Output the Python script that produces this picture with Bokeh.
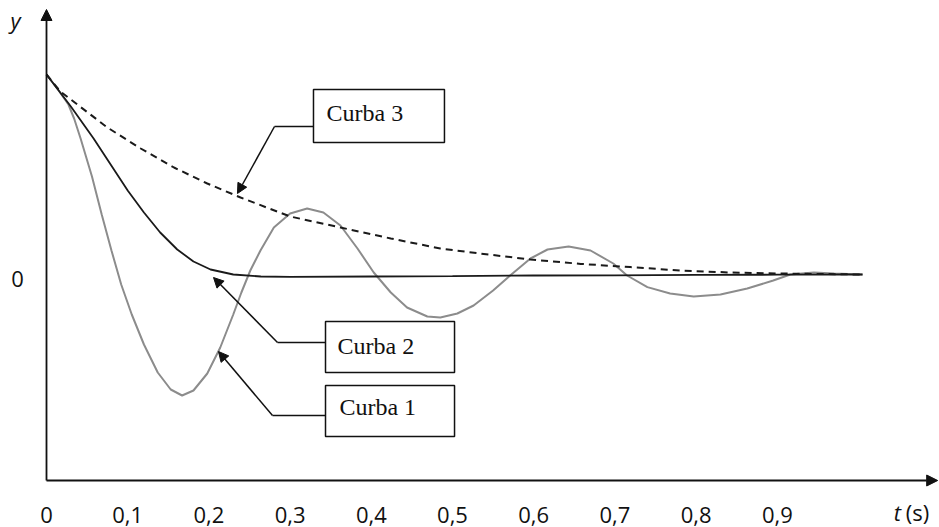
from bokeh.plotting import figure
from bokeh.models import Range1d, Arrow, NormalHead
from bokeh.core.properties import value
from bokeh.embed import file_html
from bokeh.resources import INLINE

# ---- data ----
curve1_t = [0, 0.015, 0.027, 0.034, 0.042, 0.056, 0.068, 0.08, 0.092, 0.105, 0.12, 0.137,
            0.153, 0.167, 0.181, 0.198, 0.214, 0.23, 0.24, 0.251, 0.2635, 0.28, 0.3, 0.321,
            0.341, 0.362, 0.383, 0.403, 0.424, 0.444, 0.469, 0.485, 0.506, 0.526, 0.55,
            0.571, 0.596, 0.617, 0.643, 0.67, 0.698, 0.715, 0.74, 0.768, 0.797, 0.83,
            0.863, 0.895, 0.916, 0.945, 0.97, 1.005]
curve1_y = [1.0, 0.92, 0.85, 0.78, 0.68, 0.49, 0.30, 0.12, -0.05, -0.2, -0.35, -0.49,
            -0.575, -0.605, -0.58, -0.495, -0.365, -0.2, -0.09, 0.02, 0.12, 0.235, 0.305, 0.33,
            0.31, 0.245, 0.13, 0.01, -0.09, -0.165, -0.21, -0.215, -0.195, -0.155, -0.08,
            -0.005, 0.08, 0.125, 0.14, 0.12, 0.055, -0.005, -0.063, -0.095, -0.11, -0.1,
            -0.07, -0.03, 0.0, 0.01, 0.005, 0.0]

curve2_t = [0, 0.015, 0.03, 0.058, 0.079, 0.1, 0.12, 0.14, 0.161, 0.181, 0.202, 0.23,
            0.264, 0.3, 0.4, 0.5, 0.6, 0.7, 0.8, 0.9, 1.005]
curve2_y = [1.0, 0.92, 0.84, 0.68, 0.55, 0.42, 0.31, 0.21, 0.125, 0.065, 0.025, 0.0,
            -0.01, -0.012, -0.01, -0.008, -0.005, -0.004, -0.002, -0.001, 0.0]

curve3_t = [0, 0.017, 0.075, 0.116, 0.157, 0.198, 0.239, 0.3, 0.362, 0.424, 0.485, 0.534,
            0.596, 0.658, 0.719, 0.78, 0.842, 0.904, 1.005]
curve3_y = [1.0, 0.915, 0.735, 0.63, 0.535, 0.455, 0.385, 0.29, 0.235, 0.18, 0.13, 0.105,
            0.075, 0.053, 0.037, 0.02, 0.01, 0.005, 0.0]

x_ticks = [0, 0.1, 0.2, 0.3, 0.4, 0.5, 0.6, 0.7, 0.8, 0.9]
x_tick_labels = ["0", "0,1", "0,2", "0,3", "0,4", "0,5", "0,6", "0,7", "0,8", "0,9"]
y_ticks = [0]
y_tick_labels = ["0"]

box_names = ["Curba 3", "Curba 2", "Curba 1"]

INK = "#111111"

# ---- figure (frame fills the whole canvas) ----
p = figure(width=939, height=527, output_backend="svg", toolbar_location=None,
           x_range=Range1d(-0.05665, 1.09975), y_range=Range1d(-1.265, 1.37),
           x_axis_location=None, y_axis_location=None,
           min_border=0)
p.grid.visible = False
p.outline_line_color = None
p.background_fill_color = "white"
p.border_fill_color = "white"

# axes with arrow heads
p.add_layout(Arrow(end=NormalHead(size=11, fill_color=INK, line_color=INK),
                   x_start=0, y_start=-1.03, x_end=0, y_end=1.325,
                   line_color=INK, line_width=1.8))
p.add_layout(Arrow(end=NormalHead(size=11, fill_color=INK, line_color=INK),
                   x_start=0, y_start=-1.03, x_end=1.0975, y_end=-1.03,
                   line_color=INK, line_width=1.8))

# tick labels
p.text(x=x_ticks, y=[-1.2] * len(x_ticks), text=x_tick_labels,
       text_font=value("Open Sans"), text_font_size="22px",
       text_align="center", text_baseline="middle", text_color=INK)
p.text(x=[-0.0357] * len(y_ticks), y=y_ticks, text=y_tick_labels, y_offset=4,
       text_font=value("Open Sans"), text_font_size="22px",
       text_align="center", text_baseline="middle", text_color=INK)

# axis names
p.text(x=[-0.0382], y=[1.275], text=["y"], text_font=value("Open Sans"),
       text_font_style="italic", text_font_size="22px",
       text_align="center", text_baseline="middle", text_color=INK)
p.text(x=[1.048], y=[-1.185], text=["t"], text_font=value("Open Sans"),
       text_font_style="italic", text_font_size="22px",
       text_align="center", text_baseline="middle", text_color=INK)
p.text(x=[1.0727], y=[-1.185], text=["(s)"], text_font=value("Open Sans"),
       text_font_size="22px",
       text_align="center", text_baseline="middle", text_color=INK)

# curves
p.line(curve1_t, curve1_y, line_color="#8c8c8c", line_width=2)
p.line(curve2_t, curve2_y, line_color="#1a1a1a", line_width=1.8)
p.line(curve3_t, curve3_y, line_color="#1a1a1a", line_width=2, line_dash="7 5")

# annotation boxes
box_left = [0.3288, 0.3436, 0.3436]
box_right = [0.4901, 0.5025, 0.5025]
box_top = [0.925, -0.235, -0.555]
box_bottom = [0.66, -0.49, -0.81]
p.quad(left=box_left, right=box_right, top=box_top, bottom=box_bottom,
       fill_color="white", line_color=INK, line_width=1.5)
p.text(x=[0.3448, 0.3584, 0.3608], y=[0.8075, -0.3575, -0.66], text=box_names,
       text_font=value("Liberation Serif"), text_font_size="24px",
       text_baseline="middle", text_align="left", text_color=INK)

# leader lines
p.segment(x0=[0.3288, 0.3436, 0.3436], y0=[0.74, -0.34, -0.705],
          x1=[0.2808, 0.2845, 0.2783], y1=[0.74, -0.34, -0.705],
          line_color=INK, line_width=1.5)
for xs, ys, xe, ye in [(0.2808, 0.74, 0.2352, 0.405),
                       (0.2845, -0.34, 0.2057, -0.015),
                       (0.2783, -0.705, 0.2118, -0.385)]:
    p.add_layout(Arrow(end=NormalHead(size=10, fill_color=INK, line_color=INK),
                       x_start=xs, y_start=ys, x_end=xe, y_end=ye,
                       line_color=INK, line_width=1.5))

open("out.html", "w").write(file_html(p, INLINE))
